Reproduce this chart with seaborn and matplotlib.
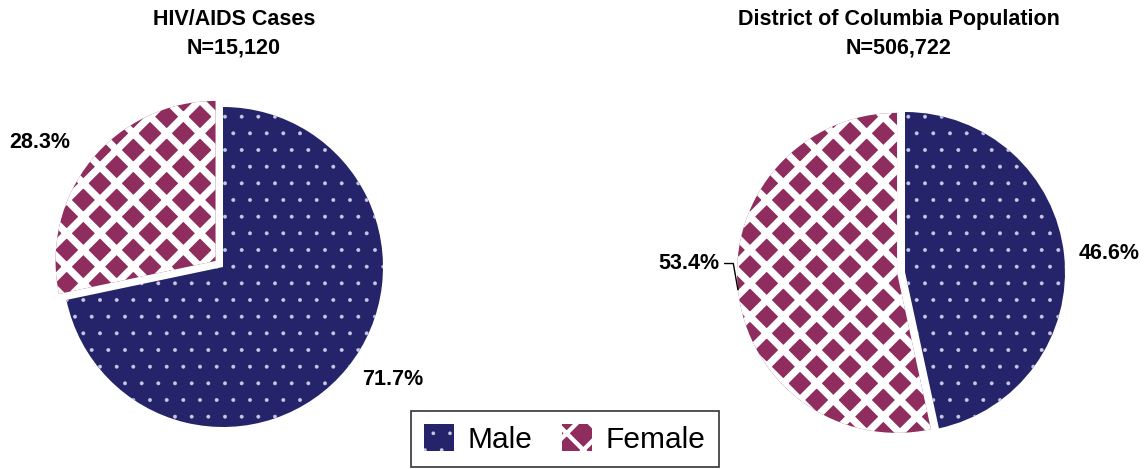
import matplotlib
matplotlib.use("Agg")
import matplotlib.pyplot as plt
import numpy as np
import seaborn as sns

categories = ["Male", "Female"]
hiv_pct = [71.7, 28.3]
pop_pct = [46.6, 53.4]
titles = ["HIV/AIDS Cases\nN=15,120", "District of Columbia Population\nN=506,722"]

# layout / style
explodes = [[0, 0.06], [0, 0.05]]
label_dist = [[1.12, 1.17], [1.09, 1.1]]
title_x = [234 / 1145, 899 / 1145]
navy = "#25246a"
maroon = "#8e2d5e"
hatches = [".", "x"]
hatch_colors = ["#c8c8e4", "white"]
hatch_lw = [0.35, 5.2]

sns.set_theme(style="white")
plt.rcParams["font.family"] = ["Liberation Sans", "DejaVu Sans"]
plt.rcParams["text.color"] = "black"

fig = plt.figure(figsize=(11.45, 4.69), dpi=100)

# axes placed so each pie has radius ~160px
ax_pos = [[23 / 1145, 2 / 469, 400 / 1145, 400 / 469],
          [705 / 1145, -3 / 469, 400 / 1145, 400 / 469]]

wedges_all = []
for k, vals in enumerate([hiv_pct, pop_pct]):
    ax = fig.add_axes(ax_pos[k])
    wedges, _ = ax.pie(vals, startangle=90, counterclock=False,
                       explode=explodes[k], colors=[navy, maroon])
    ax.set_xlim(-1.25, 1.25)
    ax.set_ylim(-1.25, 1.25)
    ax.set_aspect("equal")
    ax.axis("off")
    for j, w in enumerate(wedges):
        w.set_hatch(hatches[j])
        w.set_edgecolor(hatch_colors[j])
        w.set_linewidth(0)
        w.set_hatch_linewidth(hatch_lw[j])
    wedges_all.append(wedges)
    # percentage labels
    for j, w in enumerate(wedges):
        mid = np.deg2rad((w.theta1 + w.theta2) / 2)
        cx, cy = w.center
        d = label_dist[k][j]
        txt = f"{vals[j]:.1f}%"
        if k == 1 and j == 1:
            # label with leader line to the wedge edge
            ax.annotate(txt, xy=(cx + np.cos(mid), cy + np.sin(mid)),
                        xytext=(-13, 19), textcoords="offset points",
                        ha="right", va="center",
                        fontsize=15.5, fontweight="bold", color="black",
                        arrowprops=dict(arrowstyle="-", color="black", lw=1,
                                        shrinkA=1, shrinkB=0,
                                        connectionstyle="angle,angleA=0,angleB=100,rad=0"))
        else:
            x, y = cx + d * np.cos(mid), cy + d * np.sin(mid)
            ha = "left" if x > 0 else "right"
            ax.text(x, y, txt, ha=ha, va="center", fontsize=15.5,
                    fontweight="bold", color="black")
    fig.text(title_x[k], 1 - 9 / 469, titles[k], ha="center", va="top",
             fontsize=15.5, fontweight="bold", linespacing=1.45, color="black")

leg = fig.legend(wedges_all[0], categories, loc="lower center", ncol=2,
                 bbox_to_anchor=(565 / 1145, 2 / 469), borderaxespad=0,
                 fontsize=21.5, frameon=True, fancybox=False, edgecolor="black",
                 handlelength=1.0, handleheight=1.0, handletextpad=0.45,
                 columnspacing=1.0, borderpad=0.45, labelcolor="black")
leg.get_frame().set_linewidth(1.2)
for p, lw in zip(leg.get_patches(), hatch_lw):
    p.set_hatch_linewidth(lw * 0.6)

fig.savefig("out.png", dpi=100)
